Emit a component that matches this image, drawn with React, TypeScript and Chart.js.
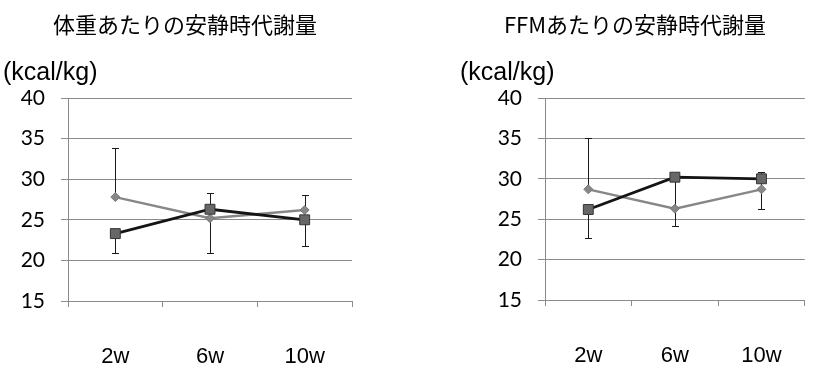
import React, { useEffect, useRef } from 'react';
import { Chart, registerables } from 'chart.js';

Chart.register(...registerables);

// Measurement weeks on the x axis
const weeks = ['2w', '6w', '10w'];

// Resting metabolic rate per body weight (kcal/kg)
const bodyGray = [27.8, 25.2, 26.2];
const bodyGrayPlus = [6.0, 3.1, 1.9];
const bodyBlack = [23.3, 26.3, 25.0];
const bodyBlackMinus = [2.4, 5.4, 3.2];

// Resting metabolic rate per fat-free mass (kcal/kg)
const ffmGray = [28.7, 26.3, 28.7];
const ffmGrayPlus = [6.3, 3.8, 2.15];
const ffmBlack = [26.2, 30.2, 30.0];
const ffmBlackMinus = [3.5, 6.0, 3.7];

// Y axis range
const yMin = 15;
const yMax = 40;
const yStep = 5;

const GRID = '#8a8a8a';

// Draws one-sided error bars (errPlus / errMinus on each dataset) with small caps
const errorBars = {
  id: 'errorBars',
  beforeDatasetsDraw(chart: any) {
    const { ctx } = chart;
    const yScale = chart.scales.y;
    chart.data.datasets.forEach((ds: any, i: number) => {
      const meta = chart.getDatasetMeta(i);
      const plus: number[] = ds.errPlus || [];
      const minus: number[] = ds.errMinus || [];
      ctx.save();
      ctx.strokeStyle = '#1a1a1a';
      ctx.lineWidth = 1;
      meta.data.forEach((pt: any, j: number) => {
        const v = ds.data[j] as number;
        const x = Math.round(pt.x) + 0.5;
        const y0 = yScale.getPixelForValue(v);
        const bar = (end: number) => {
          const ye = Math.round(end) + 0.5;
          ctx.beginPath();
          ctx.moveTo(x, y0);
          ctx.lineTo(x, ye);
          ctx.moveTo(x - 3.5, ye);
          ctx.lineTo(x + 3.5, ye);
          ctx.stroke();
        };
        if (plus[j]) bar(yScale.getPixelForValue(v + plus[j]));
        if (minus[j]) bar(yScale.getPixelForValue(v - minus[j]));
      });
      ctx.restore();
    });
  },
};

type PanelProps = {
  left: number;
  gray: number[];
  grayPlus: number[];
  black: number[];
  blackMinus: number[];
  yAxisWidth: number;
  rightPad: number;
  xAxisHeight: number;
};

function Panel(p: PanelProps) {
  const ref = useRef<HTMLCanvasElement>(null);
  useEffect(() => {
    if (!ref.current) return;
    const chart = new Chart(ref.current, {
      type: 'line',
      data: {
        labels: weeks,
        datasets: [
          {
            data: p.black,
            errMinus: p.blackMinus,
            borderColor: '#141414',
            borderWidth: 2.8,
            pointStyle: 'rect',
            pointRadius: 7,
            pointBackgroundColor: '#676767',
            pointBorderColor: '#353535',
            pointBorderWidth: 1,
            tension: 0,
          } as any,
          {
            data: p.gray,
            errPlus: p.grayPlus,
            borderColor: '#878787',
            borderWidth: 2.4,
            pointStyle: 'rectRot',
            pointRadius: 4.5,
            pointBackgroundColor: '#878787',
            pointBorderColor: '#777777',
            pointBorderWidth: 1,
            tension: 0,
          } as any,
        ],
      },
      options: {
        animation: false,
        responsive: false,
        layout: { padding: { top: 98, right: p.rightPad, left: 0, bottom: 0 } },
        plugins: { legend: { display: false }, tooltip: { enabled: false }, title: { display: false } },
        scales: {
          x: {
            type: 'category',
            offset: true,
            grid: {
              offset: true,
              drawOnChartArea: false,
              drawTicks: true,
              tickLength: 6,
              color: GRID,
            },
            border: { display: true, color: GRID },
            ticks: {
              padding: 37,
              color: '#000',
              font: { family: '"Liberation Sans", Arial, sans-serif', size: 22 },
            },
            afterFit: (s: any) => {
              s.height = p.xAxisHeight;
            },
          },
          y: {
            min: yMin,
            max: yMax,
            grid: { color: GRID, tickLength: 7, lineWidth: 1 },
            border: { display: true, color: GRID },
            ticks: {
              stepSize: yStep,
              padding: 16,
              color: '#000',
              font: { family: 'Lato, "Open Sans", sans-serif', size: 21 },
            },
            afterFit: (s: any) => {
              s.width = p.yAxisWidth;
            },
          },
        },
      },
      plugins: [errorBars],
    });
    return () => chart.destroy();
  }, []);
  return (
    <div style={{ position: 'absolute', left: p.left, top: 0, width: 410, height: 368 }}>
      <canvas ref={ref} width={410} height={368} style={{ display: 'block' }} />
    </div>
  );
}

const titleStyle: React.CSSProperties = {
  position: 'absolute',
  top: 12,
  transform: 'translateX(-50%)',
  whiteSpace: 'nowrap',
  fontFamily: '"Noto Sans CJK JP", sans-serif',
  fontSize: 22,
  lineHeight: 1,
  color: '#000',
};

const unitStyle: React.CSSProperties = {
  position: 'absolute',
  top: 59,
  whiteSpace: 'nowrap',
  fontFamily: '"Liberation Sans", Arial, sans-serif',
  fontSize: 25,
  lineHeight: 1,
  color: '#000',
};

export default function App() {
  return (
    <div
      style={{
        position: 'fixed',
        left: 0,
        top: 0,
        width: 820,
        height: 368,
        background: '#fff',
        overflow: 'hidden',
      }}
    >
      <Panel
        left={0}
        gray={bodyGray}
        grayPlus={bodyGrayPlus}
        black={bodyBlack}
        blackMinus={bodyBlackMinus}
        yAxisWidth={68}
        rightPad={58}
        xAxisHeight={67}
      />
      <Panel
        left={410}
        gray={ffmGray}
        grayPlus={ffmGrayPlus}
        black={ffmBlack}
        blackMinus={ffmBlackMinus}
        yAxisWidth={135}
        rightPad={0}
        xAxisHeight={68}
      />
      <div style={{ ...titleStyle, left: 185 }}>体重あたりの安静時代謝量</div>
      <div style={{ ...titleStyle, left: 635 }}>FFMあたりの安静時代謝量</div>
      <div style={{ ...unitStyle, left: 3 }}>(kcal/kg)</div>
      <div style={{ ...unitStyle, left: 460 }}>(kcal/kg)</div>
    </div>
  );
}
